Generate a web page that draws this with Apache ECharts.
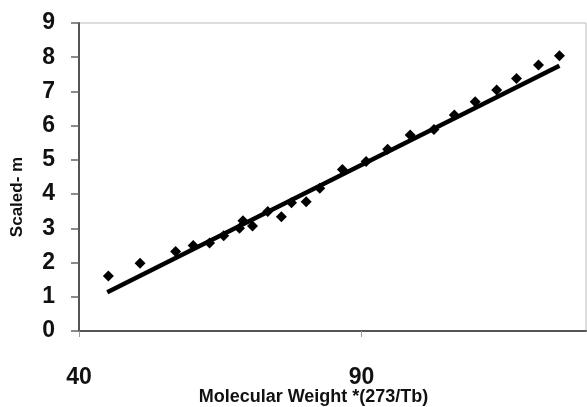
<!DOCTYPE html>
<html><head><meta charset="utf-8">
<script src="https://cdn.jsdelivr.net/npm/echarts@6/dist/echarts.min.js"></script>
<style>html,body{margin:0;padding:0;background:#fff}#c{width:587px;height:407px}</style>
</head><body><div id="c"></div>
<script>
var xTitle = "Molecular Weight *(273/Tb)";
var yTitle = "Scaled- m";
var xTicks = [40, 90];
var yTicks = [0,1,2,3,4,5,6,7,8,9];
var pointsX = [45.2,50.8,57.1,60.2,63.1,65.6,68.4,69.0,70.7,73.4,75.8,77.6,80.2,82.6,86.6,90.8,94.6,98.6,102.8,106.4,110.1,113.9,117.4,121.3,125.0];
var pointsY = [1.61,1.98,2.32,2.50,2.57,2.78,3.00,3.22,3.07,3.49,3.34,3.75,3.78,4.17,4.72,4.95,5.31,5.73,5.89,6.31,6.70,7.04,7.38,7.77,8.04];
var trendX = [45, 125];
var trendY = [1.13, 7.75];

var pts = pointsX.map(function(x,i){return [x, pointsY[i]];});
var trend = trendX.map(function(x,i){return [x, trendY[i]];});

var chart = echarts.init(document.getElementById('c'), null, {renderer:'canvas'});
chart.setOption({
  animation:false,
  backgroundColor:'#fff',
  grid:{left:79, right:1, top:23, bottom:76, show:true, borderColor:'#bbb', borderWidth:1, containLabel:false, outerBoundsMode:'none'},
  xAxis:{
    type:'value', min:40, max:129.7, interval:50,
    name:xTitle, nameLocation:'middle', nameGap:57, nameMoveOverlap:false,
    nameTextStyle:{fontFamily:'Liberation Sans', fontWeight:'bold', fontSize:18, color:'#111', padding:[0,38,0,0]},
    axisLine:{show:true, lineStyle:{color:'#555', width:2}},
    axisTick:{show:true, length:6, lineStyle:{color:'#999', width:1}},
    axisLabel:{margin:35, fontFamily:'Liberation Sans', fontWeight:'bold', fontSize:23, color:'#111', showMaxLabel:false,
      formatter:function(v){return xTicks.indexOf(v)>=0? String(v):'';}},
    splitLine:{show:false}
  },
  yAxis:{
    type:'value', min:0, max:9, interval:1,
    name:yTitle, nameLocation:'middle', nameGap:53, nameRotate:90,
    nameTextStyle:{fontFamily:'Liberation Sans', fontWeight:'bold', fontSize:17, color:'#111', padding:[0,40,0,0]},
    axisLine:{show:true, lineStyle:{color:'#555', width:2}},
    axisTick:{show:true, length:8, lineStyle:{color:'#666', width:1.5}},
    axisLabel:{margin:24, fontFamily:'Liberation Sans', fontWeight:'bold', fontSize:23, color:'#111',
      formatter:function(v){return yTicks.indexOf(v)>=0? String(v):'';}},
    splitLine:{show:false}
  },
  series:[
    {type:'scatter', data:pts, symbol:'diamond', symbolSize:11, itemStyle:{color:'#000', opacity:1}, z:3},
    {type:'line', data:trend, symbol:'none', lineStyle:{color:'#000', width:4.5}, z:4}
  ]
});
</script></body></html>
